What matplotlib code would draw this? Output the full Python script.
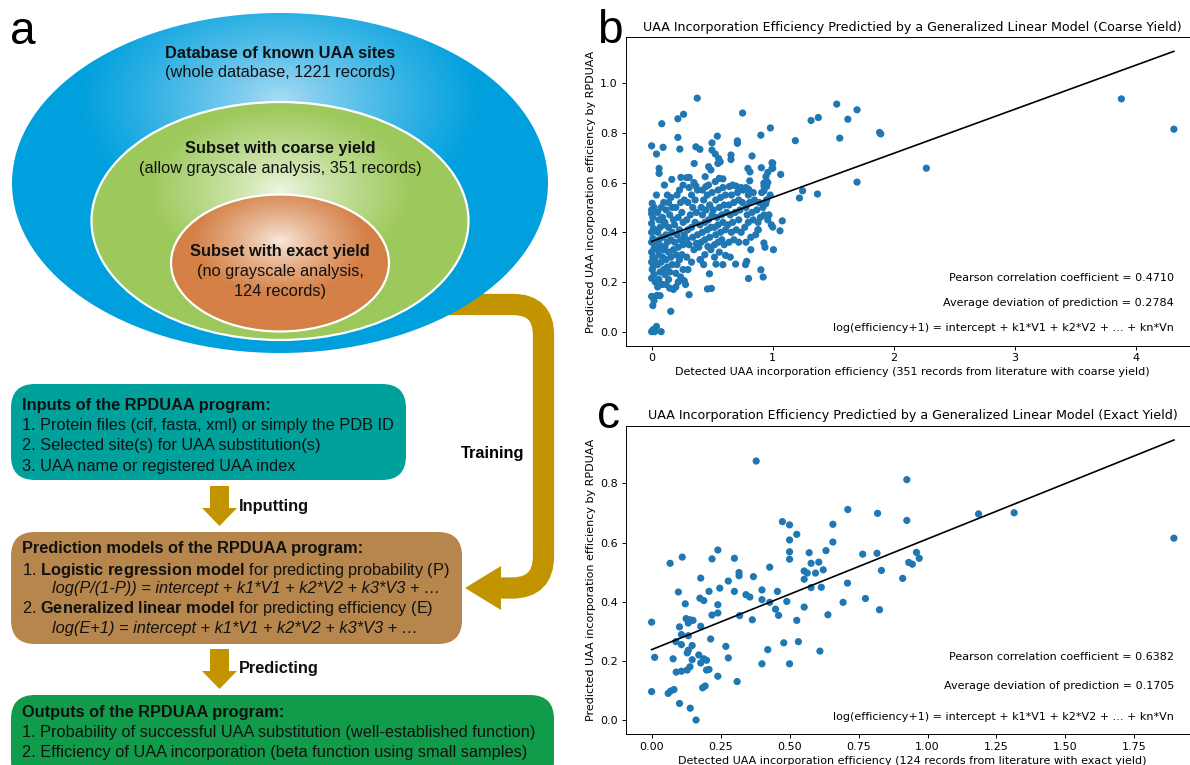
import numpy as np
import matplotlib.pyplot as plt
from matplotlib.patches import Ellipse, FancyBboxPatch, Polygon, PathPatch
from matplotlib.path import Path

# ---- data ----
# panel b: detected vs predicted efficiency, coarse yield (351 records)
b_points = [
    # sparse / high values
    (3.883, 0.937), (4.317, 0.815), (2.271, 0.658), (1.698, 0.602), (1.698, 0.893),
    (1.622, 0.855), (1.530, 0.916), (1.555, 0.779), (1.378, 0.862), (1.318, 0.850),
    (1.371, 0.554), (1.248, 0.567), (1.222, 0.538), (1.188, 0.769), (1.894, 0.796),
    (1.884, 0.802), (0.982, 0.820), (0.903, 0.791), (1.067, 0.633), (1.080, 0.446),
    (1.061, 0.406), (1.007, 0.330), (1.001, 0.421), (1.001, 0.678), (1.001, 0.658),
    # lower fringe
    (0.903, 0.249), (0.922, 0.220), (0.801, 0.214), (0.776, 0.270), (0.786, 0.283),
    (0.694, 0.272), (0.611, 0.307), (0.589, 0.270), (0.532, 0.272), (0.478, 0.233),
    (0.462, 0.172), (0.494, 0.174), (0.310, 0.149), (0.158, 0.082), (0.928, 0.357),
    (0.937, 0.340), (0.880, 0.410), (0.950, 0.530), (0.944, 0.515), (0.928, 0.598),
    # upper fringe
    (0.377, 0.940), (0.752, 0.880), (0.264, 0.875), (0.217, 0.857), (0.084, 0.837),
    (0.543, 0.787), (0.217, 0.782), (0.709, 0.768), (0.709, 0.758), (0.000, 0.748),
    (0.095, 0.742), (0.040, 0.715), (0.233, 0.735), (0.366, 0.744), (0.399, 0.734),
    (0.499, 0.760), (0.499, 0.731), (0.526, 0.715), (0.554, 0.697), (0.567, 0.684),
    (0.548, 0.677), (0.656, 0.711), (0.656, 0.693), (0.830, 0.707), (0.352, 0.677),
    (0.471, 0.664), (0.490, 0.651), (0.796, 0.657), (0.813, 0.643), (0.907, 0.660),
    (0.995, 0.680), (0.995, 0.657), (0.062, 0.657), (0.062, 0.637), (0.167, 0.613),
    (0.242, 0.621), (0.311, 0.621), (0.443, 0.624), (0.559, 0.617), (0.106, 0.590),
    (0.366, 0.586), (0.449, 0.584), (0.526, 0.604), (0.642, 0.584), (0.698, 0.586),
    (0.758, 0.570), (0.802, 0.573), (0.945, 0.624), (0.951, 0.604), (0.929, 0.586),
    (0.811, 0.607), (0.960, 0.641), (0.950, 0.584), (0.928, 0.567), (0.589, 0.615),
    # core, x 0.00-0.03
    (0.000, 0.000), (0.012, 0.008), (0.040, 0.021), (0.079, 0.000), (0.025, 0.000),
    (0.010, 0.105), (0.020, 0.125), (0.045, 0.146), (0.000, 0.142), (0.000, 0.215),
    (0.005, 0.250), (0.015, 0.262), (0.000, 0.280), (0.010, 0.300), (0.000, 0.320),
    (0.020, 0.335), (0.000, 0.360), (0.010, 0.375), (0.000, 0.400), (0.015, 0.415),
    (0.000, 0.436), (0.010, 0.460), (0.000, 0.490), (0.005, 0.517), (0.020, 0.500),
    (0.000, 0.475), (0.020, 0.230), (0.025, 0.290), (0.030, 0.350), (0.030, 0.200),
    # core, x 0.04-0.10
    (0.05, 0.18), (0.06, 0.21), (0.07, 0.24), (0.05, 0.27), (0.08, 0.28), (0.06, 0.31),
    (0.09, 0.30), (0.05, 0.33), (0.08, 0.345), (0.06, 0.37), (0.09, 0.38), (0.05, 0.40),
    (0.07, 0.42), (0.10, 0.43), (0.06, 0.45), (0.09, 0.46), (0.05, 0.48), (0.08, 0.50),
    (0.10, 0.52), (0.07, 0.145), (0.09, 0.19), (0.10, 0.25), (0.10, 0.33), (0.04, 0.55),
    # core, x 0.11-0.18
    (0.12, 0.19), (0.14, 0.21), (0.11, 0.23), (0.15, 0.24), (0.13, 0.26), (0.17, 0.27),
    (0.12, 0.29), (0.16, 0.30), (0.14, 0.32), (0.11, 0.34), (0.18, 0.33), (0.13, 0.36),
    (0.16, 0.37), (0.12, 0.39), (0.17, 0.40), (0.14, 0.42), (0.11, 0.44), (0.18, 0.45),
    (0.15, 0.47), (0.12, 0.49), (0.17, 0.50), (0.14, 0.52), (0.16, 0.54), (0.13, 0.55),
    (0.18, 0.17), (0.15, 0.175),
    # core, x 0.19-0.28
    (0.20, 0.18), (0.22, 0.20), (0.24, 0.22), (0.20, 0.235), (0.26, 0.25), (0.21, 0.27),
    (0.23, 0.29), (0.25, 0.31), (0.20, 0.31), (0.22, 0.34), (0.26, 0.35), (0.19, 0.36),
    (0.24, 0.37), (0.21, 0.39), (0.27, 0.39), (0.23, 0.41), (0.19, 0.43), (0.26, 0.44),
    (0.22, 0.46), (0.25, 0.48), (0.20, 0.50), (0.24, 0.52), (0.27, 0.53), (0.21, 0.55),
    (0.23, 0.57), (0.26, 0.59), (0.28, 0.19), (0.27, 0.205),
    # core, x 0.28-0.40
    (0.30, 0.25), (0.33, 0.28), (0.29, 0.30), (0.35, 0.33), (0.31, 0.35), (0.37, 0.355),
    (0.29, 0.37), (0.34, 0.38), (0.38, 0.39), (0.30, 0.41), (0.33, 0.42), (0.36, 0.44),
    (0.29, 0.45), (0.32, 0.47), (0.37, 0.48), (0.34, 0.50), (0.30, 0.52), (0.36, 0.53),
    (0.33, 0.55), (0.38, 0.57), (0.31, 0.58), (0.35, 0.60), (0.29, 0.62), (0.40, 0.29),
    (0.39, 0.34),
    # core, x 0.40-0.50
    (0.404, 0.289), (0.465, 0.343), (0.41, 0.36), (0.44, 0.37), (0.48, 0.38), (0.42, 0.40),
    (0.46, 0.41), (0.49, 0.42), (0.40, 0.43), (0.44, 0.44), (0.47, 0.45), (0.42, 0.47),
    (0.50, 0.47), (0.45, 0.49), (0.41, 0.50), (0.48, 0.51), (0.43, 0.53), (0.46, 0.55),
    (0.50, 0.56), (0.42, 0.57), (0.47, 0.59), (0.44, 0.31), (0.49, 0.33), (0.43, 0.27),
    # core, x 0.51-0.62
    (0.52, 0.35), (0.55, 0.36), (0.58, 0.37), (0.60, 0.35), (0.53, 0.39), (0.57, 0.40),
    (0.61, 0.41), (0.52, 0.42), (0.55, 0.43), (0.59, 0.44), (0.54, 0.46), (0.58, 0.47),
    (0.62, 0.48), (0.51, 0.49), (0.56, 0.50), (0.60, 0.51), (0.53, 0.53), (0.57, 0.54),
    (0.61, 0.55), (0.55, 0.57), (0.59, 0.58), (0.52, 0.30), (0.56, 0.32),
    # core, x 0.63-0.75
    (0.65, 0.30), (0.64, 0.36), (0.68, 0.37), (0.72, 0.36), (0.66, 0.40), (0.70, 0.41),
    (0.74, 0.40), (0.63, 0.43), (0.67, 0.44), (0.72, 0.45), (0.65, 0.47), (0.69, 0.48),
    (0.73, 0.49), (0.64, 0.51), (0.68, 0.52), (0.72, 0.53), (0.66, 0.55), (0.71, 0.56),
    (0.74, 0.58), (0.67, 0.59), (0.75, 0.52),
    # core, x 0.76-0.90
    (0.78, 0.36), (0.82, 0.38), (0.86, 0.39), (0.77, 0.42), (0.80, 0.44), (0.84, 0.45),
    (0.88, 0.44), (0.79, 0.47), (0.83, 0.48), (0.87, 0.49), (0.78, 0.50), (0.81, 0.52),
    (0.85, 0.53), (0.89, 0.52), (0.80, 0.55), (0.84, 0.56), (0.78, 0.58), (0.88, 0.41),
    (0.82, 0.33),
    # core, x 0.90-1.00
    (0.90, 0.46), (0.93, 0.47), (0.96, 0.45), (0.92, 0.50), (0.95, 0.53), (0.97, 0.47),
    (0.99, 0.43), (0.91, 0.56), (0.96, 0.60), (0.98, 0.55),
]
b_fit = (0.363, 0.1773)          # intercept, slope of the drawn line
b_stats = ["Pearson correlation coefficient = 0.4710",
           "Average deviation of prediction = 0.2784",
           "log(efficiency+1) = intercept + k1*V1 + k2*V2 + ... + kn*Vn"]
b_text_y = [0.216, 0.115, 0.015]

# panel c: exact yield (124 records)
c_points = [
    (0.379, 0.876), (0.925, 0.813), (0.711, 0.712), (0.819, 0.699), (1.185, 0.697),
    (1.314, 0.701), (0.925, 0.675), (1.893, 0.615), (0.474, 0.671), (0.500, 0.660),
    (0.657, 0.662), (0.526, 0.628), (0.500, 0.609), (0.657, 0.602), (0.500, 0.569),
    (0.500, 0.544), (0.571, 0.566), (0.632, 0.573), (0.765, 0.561), (0.817, 0.564),
    (0.960, 0.567), (0.932, 0.533), (0.945, 0.527), (0.970, 0.547), (0.910, 0.479),
    (0.833, 0.506), (0.578, 0.530), (0.606, 0.534), (0.622, 0.508), (0.553, 0.504),
    (0.564, 0.497), (0.594, 0.497), (0.553, 0.476), (0.578, 0.448), (0.615, 0.449),
    (0.710, 0.463), (0.694, 0.398), (0.775, 0.411), (0.826, 0.373), (0.639, 0.356),
    (0.553, 0.382), (0.490, 0.401), (0.456, 0.435), (0.428, 0.517), (0.449, 0.375),
    (0.460, 0.354), (0.526, 0.337), (0.532, 0.265), (0.479, 0.261), (0.610, 0.233),
    (0.500, 0.190), (0.421, 0.238), (0.400, 0.190), (0.428, 0.398), (0.400, 0.440),
    (0.400, 0.407), (0.369, 0.485), (0.365, 0.339), (0.342, 0.424), (0.356, 0.416),
    (0.319, 0.353), (0.317, 0.499), (0.317, 0.488), (0.300, 0.547), (0.300, 0.435),
    (0.278, 0.470), (0.240, 0.575), (0.219, 0.545), (0.247, 0.446), (0.208, 0.435),
    (0.240, 0.390), (0.240, 0.362), (0.219, 0.355), (0.214, 0.274), (0.178, 0.480),
    (0.175, 0.412), (0.189, 0.404), (0.178, 0.317), (0.111, 0.551), (0.067, 0.530),
    (0.097, 0.433), (0.122, 0.393), (0.125, 0.343), (0.139, 0.339), (0.150, 0.337),
    (0.133, 0.328), (0.101, 0.315), (0.108, 0.289), (0.133, 0.285), (0.088, 0.265),
    (0.108, 0.255), (0.147, 0.252), (0.133, 0.236), (0.129, 0.227), (0.171, 0.220),
    (0.147, 0.204), (0.189, 0.207), (0.199, 0.202), (0.178, 0.193), (0.078, 0.207),
    (0.000, 0.331), (0.011, 0.212), (0.089, 0.162), (0.108, 0.165), (0.129, 0.169),
    (0.139, 0.180), (0.199, 0.169), (0.208, 0.171), (0.240, 0.148), (0.310, 0.130),
    (0.000, 0.096), (0.060, 0.090), (0.069, 0.098), (0.081, 0.103), (0.185, 0.109),
    (0.194, 0.115), (0.101, 0.056), (0.140, 0.040), (0.161, 0.000), (0.269, 0.249),
    (0.278, 0.210),
]
c_fit = (0.238, 0.3746)
c_stats = ["Pearson correlation coefficient = 0.6382",
           "Average deviation of prediction = 0.1705",
           "log(efficiency+1) = intercept + k1*V1 + k2*V2 + ... + kn*Vn"]
c_text_y = [0.213, 0.115, 0.011]

titles = ["UAA Incorporation Efficiency Predictied by a Generalized Linear Model (Coarse Yield)",
          "UAA Incorporation Efficiency Predictied by a Generalized Linear Model (Exact Yield)"]
xlabels = ["Detected UAA incorporation efficiency (351 records from literature with coarse yield)",
           "Detected UAA incorporation efficiency (124 records from literature with exact yield)"]
ylabel = "Predicted UAA incorporation efficiency by RPDUAA"

plt.rcParams['mathtext.fontset'] = 'custom'
plt.rcParams['mathtext.rm'] = 'Liberation Sans'
plt.rcParams['mathtext.bf'] = 'Liberation Sans:bold'
plt.rcParams['mathtext.it'] = 'Liberation Sans:italic'
plt.rcParams['font.size'] = 8
plt.rcParams['axes.linewidth'] = 0.7
for a in ['xtick', 'ytick']:
    plt.rcParams[a + '.major.size'] = 2.8
    plt.rcParams[a + '.major.width'] = 0.7
    plt.rcParams[a + '.major.pad'] = 2.8

fig = plt.figure(figsize=(11.9, 7.65), dpi=100)

# ---- panel a, drawn in pixel coordinates ----
bg = fig.add_axes([0, 0, 1, 1])
bg.axis('off')
LS = 'Liberation Sans'
FS = 11.8
GOLD = '#c29400'


def grad_ellipse(cx, cy, w, h, hx, hy, c_in, c_out, reach, border):
    e = Ellipse((cx, cy), w, h, facecolor='none', edgecolor='none', zorder=3)
    bg.add_patch(e)
    xs = np.linspace(cx - w / 2, cx + w / 2, 400)
    ys = np.linspace(cy - h / 2, cy + h / 2, 260)
    X, Y = np.meshgrid(xs, ys)
    r = np.sqrt(((X - hx) / (w / 2)) ** 2 + ((Y - hy) / (h / 2)) ** 2)
    t = np.clip(r / reach, 0, 1)[..., None] ** 0.8
    img = np.array(c_in)[None, None, :] * (1 - t) + np.array(c_out)[None, None, :] * t
    im = bg.imshow(img / 255.0, extent=(cx - w / 2, cx + w / 2, cy + h / 2, cy - h / 2),
                   aspect='auto', zorder=3, interpolation='bilinear')
    im.set_clip_path(e)
    if border:
        bg.add_patch(Ellipse((cx, cy), w, h, facecolor='none', edgecolor='white',
                             lw=1.6, zorder=4))


# training arrow (behind the ellipses)
tr = Path([(430, 304.5), (513, 304.5), (543.5, 304.5), (543.5, 335), (543.5, 556),
           (543.5, 588), (512, 588), (500, 588)],
          [Path.MOVETO, Path.LINETO, Path.CURVE3, Path.CURVE3, Path.LINETO,
           Path.CURVE3, Path.CURVE3, Path.LINETO])
bg.add_patch(PathPatch(tr, fill=False, edgecolor=GOLD, lw=15.3, capstyle='butt',
                       joinstyle='miter', zorder=1))
bg.add_patch(Polygon([(501, 566), (465, 588), (501, 610)], closed=True,
                     facecolor=GOLD, edgecolor='none', zorder=1))
bg.text(493, 453, "Training", fontsize=FS, fontweight='bold', family=LS,
        ha='center', va='center')

grad_ellipse(280, 183, 536, 340, 280, 100, (175, 222, 245), (0, 160, 222), 0.75, False)
grad_ellipse(280, 221, 377, 238, 280, 190, (240, 247, 228), (157, 201, 92), 0.7, True)
grad_ellipse(280, 263, 218, 137, 280, 240, (250, 236, 226), (212, 128, 70), 0.8, True)

ell_text = [(53, "Database of known UAA sites", 'bold'),
            (72, "(whole database, 1221 records)", 'normal'),
            (148, "Subset with coarse yield", 'bold'),
            (168, "(allow grayscale analysis, 351 records)", 'normal'),
            (251, "Subset with exact yield", 'bold'),
            (271, "(no grayscale analysis,", 'normal'),
            (291, "124 records)", 'normal')]
for y, s, w in ell_text:
    bg.text(280, y, s, fontsize=FS, fontweight=w, family=LS, ha='center',
            va='center', color='#111111', zorder=5)

boxes = [(11, 384, 395, 96, '#00a19b'),
         (11, 532, 451, 112, '#b7864c'),
         (11, 695, 543, 90, '#119c4b')]
for x, y, w, h, col in boxes:
    bg.add_patch(FancyBboxPatch((x, y), w, h, boxstyle="round,pad=0,rounding_size=24",
                                facecolor=col, edgecolor='none', zorder=2))

box_lines = [(22, 405, "Inputs of the RPDUAA program:", 'bold', 'normal'),
             (22, 425, "1. Protein files (cif, fasta, xml) or simply the PDB ID", 'normal', 'normal'),
             (22, 445, "2. Selected site(s) for UAA substitution(s)", 'normal', 'normal'),
             (22, 466, "3. UAA name or registered UAA index", 'normal', 'normal'),
             (22, 549, "Prediction models of the RPDUAA program:", 'bold', 'normal'),
             (22, 570, r"1. $\mathbf{Logistic\ regression\ model}$ for predicting probability (P)", 'normal', 'normal'),
             (52, 589, "log(P/(1-P)) = intercept + k1*V1 + k2*V2 + k3*V3 + \u2026", 'normal', 'italic'),
             (22, 609, r"2. $\mathbf{Generalized\ linear\ model}$ for predicting efficiency (E)", 'normal', 'normal'),
             (52, 628, "log(E+1) = intercept + k1*V1 + k2*V2 + k3*V3 + \u2026", 'normal', 'italic'),
             (22, 713, "Outputs of the RPDUAA program:", 'bold', 'normal'),
             (22, 732, "1. Probability of successful UAA substitution (well-established function)", 'normal', 'normal'),
             (22, 752, "2. Efficiency of UAA incorporation (beta function using small samples)", 'normal', 'normal')]
for x, y, s, w, st in box_lines:
    bg.text(x, y, s, fontsize=FS, fontweight=w, fontstyle=st, family=LS,
            ha='left', va='center', color='#111111', zorder=5)

# down arrows
for y0, label in [(486, "Inputting"), (649, "Predicting")]:
    bg.add_patch(Polygon([(210, y0), (229, y0), (229, y0 + 22), (237, y0 + 22),
                          (219.5, y0 + 40), (202, y0 + 22), (210, y0 + 22)],
                         closed=True, facecolor=GOLD, edgecolor='none', zorder=2))
    bg.text(239, y0 + 20, label, fontsize=FS, fontweight='bold', family=LS,
            ha='left', va='center', color='#111111')

for x, y, s in [(10, 44, "a"), (597, 43, "b"), (597, 428, "c")]:
    bg.text(x, y, s, fontsize=33, family=LS, ha='left', va='baseline')

bg.set_xlim(0, 1190)
bg.set_ylim(765, 0)

# ---- panels b and c ----
axb = fig.add_axes([625.5 / 1190, 1 - 345.7 / 765, (1200 - 625.5) / 1190, 308.4 / 765])
axc = fig.add_axes([625.5 / 1190, 1 - 734 / 765, (1200 - 625.5) / 1190, 308 / 765])

for ax, pts, fit, stats, ty, title, xl in [
        (axb, b_points, b_fit, b_stats, b_text_y, titles[0], xlabels[0]),
        (axc, c_points, c_fit, c_stats, c_text_y, titles[1], xlabels[1])]:
    xs = np.array([p[0] for p in pts])
    ys = np.array([p[1] for p in pts])
    ax.scatter(xs, ys, s=27, color='#1f77b4', edgecolors='none')
    xl_ = np.array([xs.min(), xs.max()])
    ax.plot(xl_, fit[0] + fit[1] * xl_, color='black', lw=1.2)
    for s, y in zip(stats, ty):
        ax.text(xs.max(), y, s, ha='right', va='center', fontsize=8)
    ax.set_title(title, fontsize=9.1, pad=4.8)
    ax.set_xlabel(xl, fontsize=8, labelpad=2.8)
    ax.set_ylabel(ylabel, fontsize=8, labelpad=3.2)

fig.savefig("out.png", dpi=100)
